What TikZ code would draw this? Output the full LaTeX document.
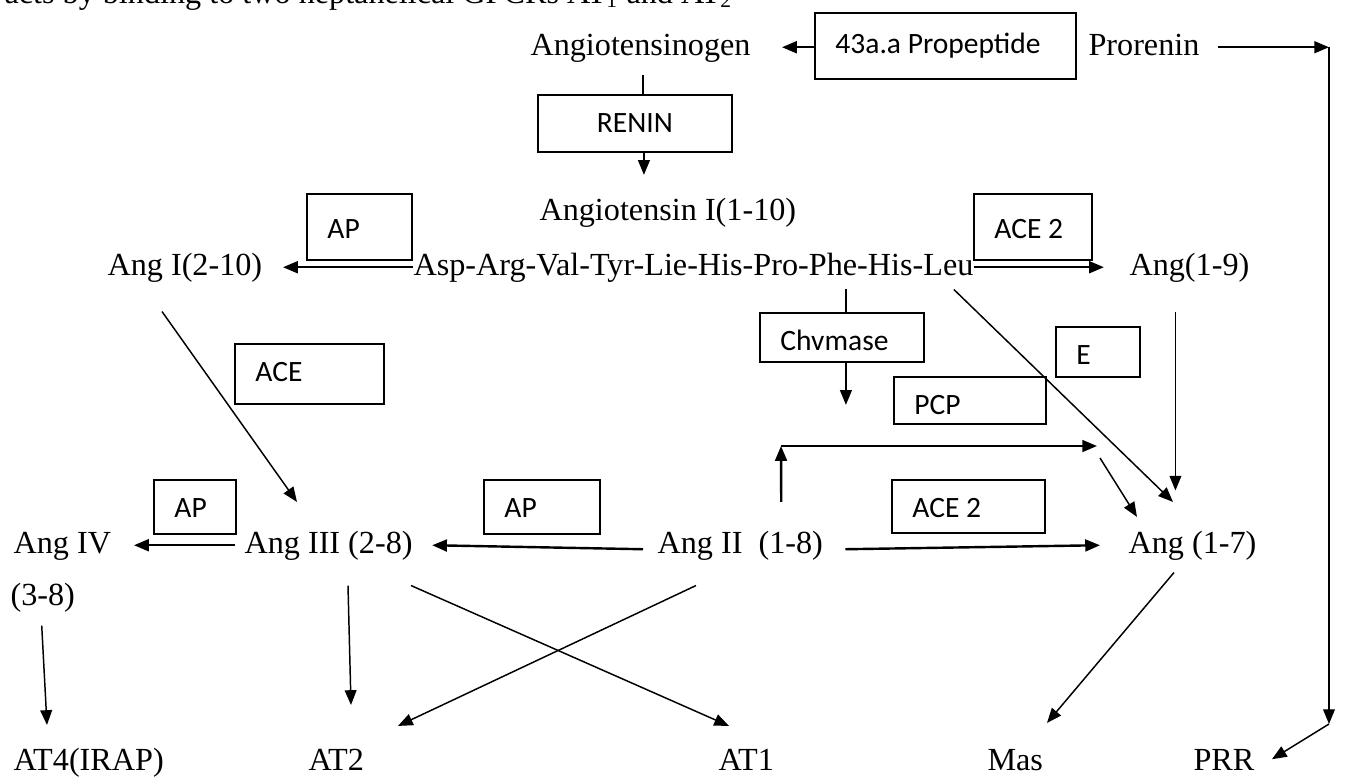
\documentclass[tikz,border=0pt]{standalone}
\usepackage{fontspec}
\setmainfont{Liberation Serif}
\newfontfamily\carlito{Carlito}
\usetikzlibrary{arrows.meta,calc}
\begin{document}
\begin{tikzpicture}[x=0.3727pt,y=-0.3727pt,
  txt/.style={inner sep=0pt,anchor=base west,text height=8.4pt,text depth=2.6pt,font=\fontsize{12}{14}\selectfont},
  enz/.style 2 args={draw,line width=0.7pt,inner sep=0pt,anchor=north west,minimum width=#1*0.3727pt,minimum height=#2*0.3727pt},
  labl/.style={inner sep=0pt,anchor=base west,xshift=7.8pt,yshift=-14.2pt,font=\carlito\fontsize{11}{13}\selectfont},
  labc/.style={inner sep=0pt,anchor=base,yshift=-14.2pt,font=\carlito\fontsize{11}{13}\selectfont},
  ln/.style={line width=0.55pt},
  arr/.style={-{Triangle[length=5.5pt,width=4.4pt]},line width=0.55pt},
  harr/.style={arr,line width=0.9pt}]
\useasboundingbox (0,0) rectangle (1348,779);
\clip (0,0) rectangle (1348,779);

\node[txt] (top) at (4,3) {acts by binding to two heptahelical GPCRs AT\textsubscript{1} and AT\textsubscript{2}};
\node[txt] (agt) at (530,55) {Angiotensinogen};
\node[enz={261}{66},label={[labl,yshift=-1.1pt]north west:43a.a Propeptide}] (prop) at (814,12) {};
\node[txt] (pro) at (1088,55) {Prorenin};
\node[enz={194}{57},label={[labc]north:RENIN}] (renin) at (537,94) {};
\node[txt] (ang1) at (539,220) {Angiotensin I(1-10)};
\node[enz={105}{66},label={[labl,yshift=-2.6pt]north west:AP}] (apu) at (306,193) {};
\node[enz={118}{66},label={[labl,yshift=-2.6pt]north west:ACE 2}] (aceu) at (973,193) {};
\node[txt] (ang210) at (107,275) {Ang I(2-10)};
\node[txt] (seq) at (413,275) {Asp-Arg-Val-Tyr-Lie-His-Pro-Phe-His-Leu};
\node[txt] (ang19) at (1129,275) {Ang(1-9)};
\node[enz={149}{60},label={[labl]north west:ACE}] (ace) at (234,343) {};
\node[enz={164}{49},label={[labl]north west:Chvmase}] (chy) at (759,312) {};
\node[enz={84}{50},label={[labl]north west:E}] (ebox) at (1055,326) {};
\node[enz={152}{47},label={[labl]north west:PCP}] (pcp) at (893,376) {};
\node[enz={82}{54},label={[labl]north west:AP}] (apl) at (153,479) {};
\node[enz={116}{54},label={[labl]north west:AP}] (apm) at (483,479) {};
\node[enz={153}{53},label={[labl]north west:ACE 2}] (acel) at (891,479) {};
\node[txt] (ang4) at (13,553) {Ang IV};
\node[txt] (ang38) at (10,605) {(3-8)};
\node[txt] (ang3) at (244,553) {Ang III (2-8)};
\node[txt] (ang2) at (657,553) {Ang II\ \ (1-8)};
\node[txt] (ang17) at (1128,553) {Ang (1-7)};
\node[txt] (at4) at (13,770) {AT4(IRAP)};
\node[txt] (at2) at (308,770) {AT2};
\node[txt] (at1) at (718,770) {AT1};
\node[txt] (mas) at (987,770) {Mas};
\node[txt] (prr) at (1193,770) {PRR};
\coordinate (elb) at (781,446);
\coordinate (rx) at (1329,0);
\coordinate (rb) at (1329,724);

\path[draw,harr] (prop.west |- agt.east) -- ++(-32,0);
\path[draw,harr] ($(pro.east)+(18,0)$) -- (pro.east -| rx);
\path[draw,arr] (pro.east -| rx) -- (rb);
\path[draw,arr] (rb) -- ($(prr.east)+(17,-3)$);
\path[draw,ln] ($(renin.north)+(8,0)$) -- ++(0,-19);
\path[draw,arr] ($(renin.south)+(9,0)$) -- ++(0,22);
\path[draw,harr] (seq.west) -- ++(-130,0);
\path[draw,harr] (seq.east) -- ++(130,0);
\path[draw,ln] ($(chy.north)+(4,0)$) -- ++(0,-23);
\path[draw,arr] ($(chy.south)+(4,0)$) -- ++(0,42);
\path[draw,arr] ($(seq.south east)+(-20,7)$) -- ($(ang17.north west)+(45,-28)$);
\path[draw,arr] ($(ang19.south)+(-14,29)$) -- ++(0,179);
\path[draw,harr] ($(ang2.north)+(41,-28)$) -- (elb);
\path[draw,harr] (elb) -- ++(316,0);
\path[draw,arr] ($(elb)+(319,12)$) -- ($(ang17.north west)+(9,-13)$);
\path[draw,arr] ($(ang210.south west)+(55,29)$) -- ($(ang3.north west)+(53,-28)$);
\path[draw,harr] ($(ang3.west)+(-9,0)$) -- ++(-101,0);
\path[draw,harr] ($(ang2.west)+(-14,4)$) -- ($(ang3.east)+(19,0)$);
\path[draw,harr] ($(ang2.east)+(22,4)$) -- ($(ang17.west)+(-28,0)$);
\path[draw,arr] ($(ang38.south)+(-1,13)$) -- ($(at4.north west)+(34,-22)$);
\path[draw,arr] ($(ang3.south west)+(104,25)$) -- ($(at2.north west)+(43,-42)$);
\path[draw,arr] ($(ang3.south west)+(167,25)$) -- ($(at1.north west)+(11,-21)$);
\path[draw,arr] ($(ang2.south west)+(39,25)$) -- ($(at2.north west)+(90,-21)$);
\path[draw,arr] ($(ang17.south west)+(46,12)$) -- ($(mas.north west)+(60,-24)$);
\end{tikzpicture}
\end{document}
